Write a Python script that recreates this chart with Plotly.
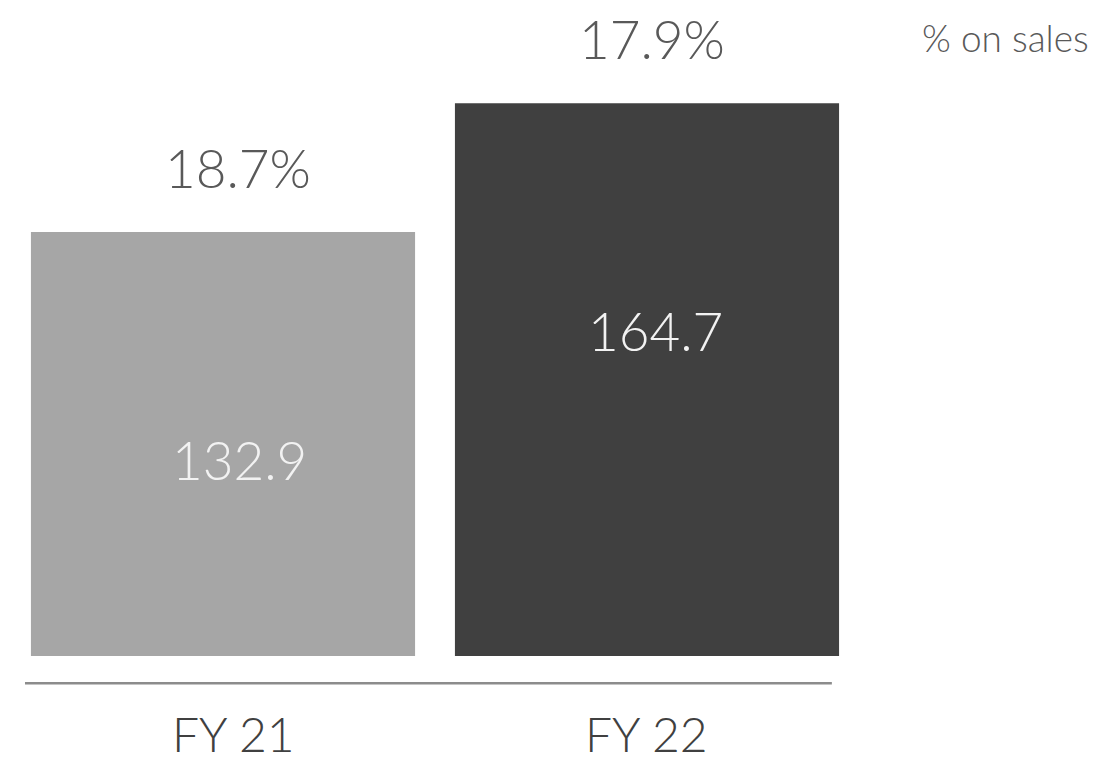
import plotly.graph_objects as go

categories = ["FY 21", "FY 22"]
values = [132.9, 164.7]
value_labels = ["132.9", "164.7"]
pct_labels = ["18.7%", "17.9%"]
bar_colors = ["#a6a6a6", "#404040"]
unit_label = "% on sales"

FONT = "Lato"
pct_xshift = [15, 5]
val_xshift = [16, 8]
cat_xshift = [10, -1]

fig = go.Figure()
fig.add_trace(go.Bar(
    x=categories, y=values,
    marker=dict(color=bar_colors, line=dict(width=0)),
    hoverinfo="skip",
))

for i, (cat, v, vl, pl) in enumerate(zip(categories, values, value_labels, pct_labels)):
    fig.add_annotation(x=cat, y=v, xref="x", yref="y", text=pl, showarrow=False,
                       yanchor="middle", yshift=65, xshift=pct_xshift[i],
                       font=dict(family=FONT, size=53, color="#595959", weight=300))
    fig.add_annotation(x=cat, y=v, xref="x", yref="y", text=vl, showarrow=False,
                       yanchor="middle", yshift=-227, xshift=val_xshift[i],
                       font=dict(family=FONT, size=53, color="#f2f2f2", weight=300))
    fig.add_annotation(x=cat, y=0, xref="x", yref="paper", text=cat, showarrow=False,
                       yanchor="middle", yshift=-77, xshift=cat_xshift[i],
                       font=dict(family=FONT, size=48, color="#404040", weight=300))

fig.add_annotation(x=1.273, y=1.021, xref="paper", yref="paper", text=unit_label,
                   showarrow=False, xanchor="right", yanchor="middle",
                   font=dict(family=FONT, size=37, color="#595959", weight=300))

fig.add_shape(type="line", xref="paper", yref="paper",
              x0=0.0165, x1=0.968, y0=-0.045, y1=-0.045,
              line=dict(color="#8c8c8c", width=2.5))

# page body has an 8px margin; the figure is sized to end at the window edge
fig.update_layout(
    width=1088, height=753,
    margin=dict(l=3, r=237, t=42, b=105),
    paper_bgcolor="white", plot_bgcolor="white",
    bargap=0.094,
    showlegend=False,
    xaxis=dict(showgrid=False, zeroline=False, showline=False, ticks="",
               showticklabels=False, automargin=False),
    yaxis=dict(range=[28.4, 177.8], visible=False, showgrid=False, zeroline=False,
               automargin=False),
)

fig.write_html("out.html")
